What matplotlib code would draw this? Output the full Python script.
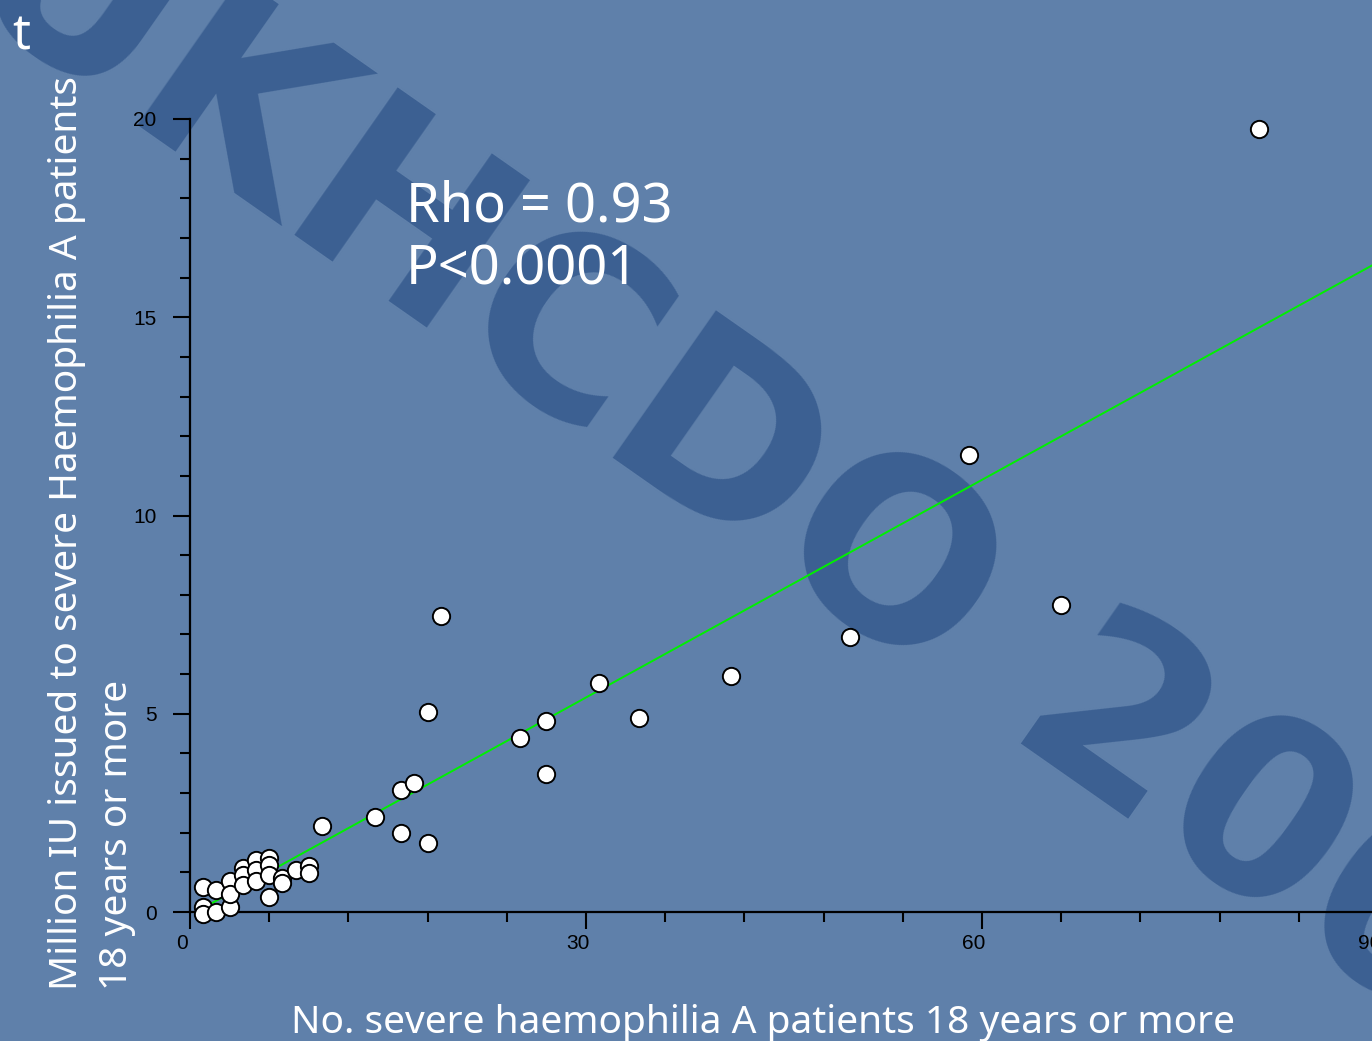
import matplotlib
matplotlib.use("Agg")
import matplotlib.pyplot as plt
import matplotlib.transforms as mtransforms
import numpy as np

# ---- data ----
patients = [81, 59, 66, 50, 41, 34, 31, 27, 25, 27, 19, 18, 18, 16, 16, 17, 14, 10,
            1, 1, 1, 2, 2, 3, 3, 3, 4, 4, 4, 5, 5, 5, 6, 6, 6, 6, 7, 7, 8, 9, 9]
million_iu = [19.75, 11.53, 7.74, 6.94, 5.95, 4.89, 5.78, 4.82, 4.39, 3.48, 7.47, 5.04,
              1.74, 1.99, 3.08, 3.25, 2.40, 2.17,
              0.64, 0.13, -0.05, 0.55, 0.01, 0.77, 0.13, 0.45, 1.10, 0.93, 0.68,
              1.31, 1.06, 0.77, 1.35, 1.19, 0.93, 0.39, 0.85, 0.72, 1.06, 1.16, 0.99]
fit_slope = 0.183
fit_intercept = -0.08
xticks_major = [0, 30, 60, 90]
yticks_major = [0, 5, 10, 15, 20]
stats_lines = ["Rho = 0.93", "P<0.0001"]
xlabel = "No. severe haemophilia A patients 18 years or more"
ylabel_lines = ["Million IU issued to severe Haemophilia A patients", "18 years or more"]
watermark = "UKHCDO 2006"

W, H = 1372, 1041
bg = "#5f80aa"
wm_color = "#3c6092"

fig = plt.figure(figsize=(W / 100, H / 100), dpi=100, facecolor=bg)

def fx(px):
    return px / W

def fy(py):
    return 1 - py / H

# watermark (behind everything)
fig.text(fx(800), fy(506), watermark, fontsize=178, fontweight="bold",
         family="DejaVu Sans", color=wm_color, rotation=-35,
         rotation_mode="anchor", ha="center", va="center", zorder=-10)

ax = fig.add_axes([fx(190), fy(912), fx(1378) - fx(190), fy(119) - fy(912)])
ax.set_zorder(1)
ax.patch.set_alpha(0)
ax.set_xlim(0, 90)
ax.set_ylim(0, 20)

for s in ["top", "right"]:
    ax.spines[s].set_visible(False)
for s in ["left", "bottom"]:
    ax.spines[s].set_linewidth(1.6)
    ax.spines[s].set_color("black")

xfit = np.array([0, 100])
ax.plot(xfit, fit_intercept + fit_slope * xfit, color="#00f000", lw=1.4, zorder=2)

ax.scatter(patients, million_iu, s=155, facecolor="white", edgecolor="black",
           linewidth=1.4, zorder=3, clip_on=False)

ax.set_xticks(xticks_major)
ax.set_xticks(np.arange(0, 91, 6), minor=True)
ax.set_yticks(yticks_major)
ax.set_yticks(np.arange(0, 21, 1), minor=True)
ax.tick_params(which="major", length=12, width=1.5, color="black", labelsize=15,
               labelcolor="black")
ax.tick_params(which="minor", length=7, width=1.5, color="black")
ax.tick_params(axis="y", which="major", pad=12)
ax.tick_params(axis="x", which="major", pad=4)
for lab in ax.get_xticklabels() + ax.get_yticklabels():
    lab.set_family("Liberation Sans")
offset = mtransforms.ScaledTranslation(-8 / 100, 0, fig.dpi_scale_trans)
for lab in ax.get_xticklabels():
    lab.set_transform(lab.get_transform() + offset)

# statistics text
fig.text(fx(406), fy(222), stats_lines[0], fontsize=39, color="white",
         family="Noto Sans", ha="left", va="baseline", zorder=5)
fig.text(fx(406), fy(285), stats_lines[1], fontsize=39, color="white",
         family="Noto Sans", ha="left", va="baseline", zorder=5)

# axis labels
fig.text(fx(763), fy(1033), xlabel, fontsize=28, color="white",
         family="Noto Sans", ha="center", va="baseline", zorder=5)
fig.text(fx(77), fy(990), ylabel_lines[0], fontsize=28, color="white",
         family="Noto Sans", rotation=90, rotation_mode="anchor",
         ha="left", va="baseline", zorder=5)
fig.text(fx(127), fy(990), ylabel_lines[1], fontsize=28, color="white",
         family="Noto Sans", rotation=90, rotation_mode="anchor",
         ha="left", va="baseline", zorder=5)

# remnant of slide title
fig.text(fx(12), fy(50), "t", fontsize=36, color="white", family="Noto Sans",
         ha="left", va="baseline", zorder=5)

fig.savefig("out.png", dpi=100, facecolor=bg)
